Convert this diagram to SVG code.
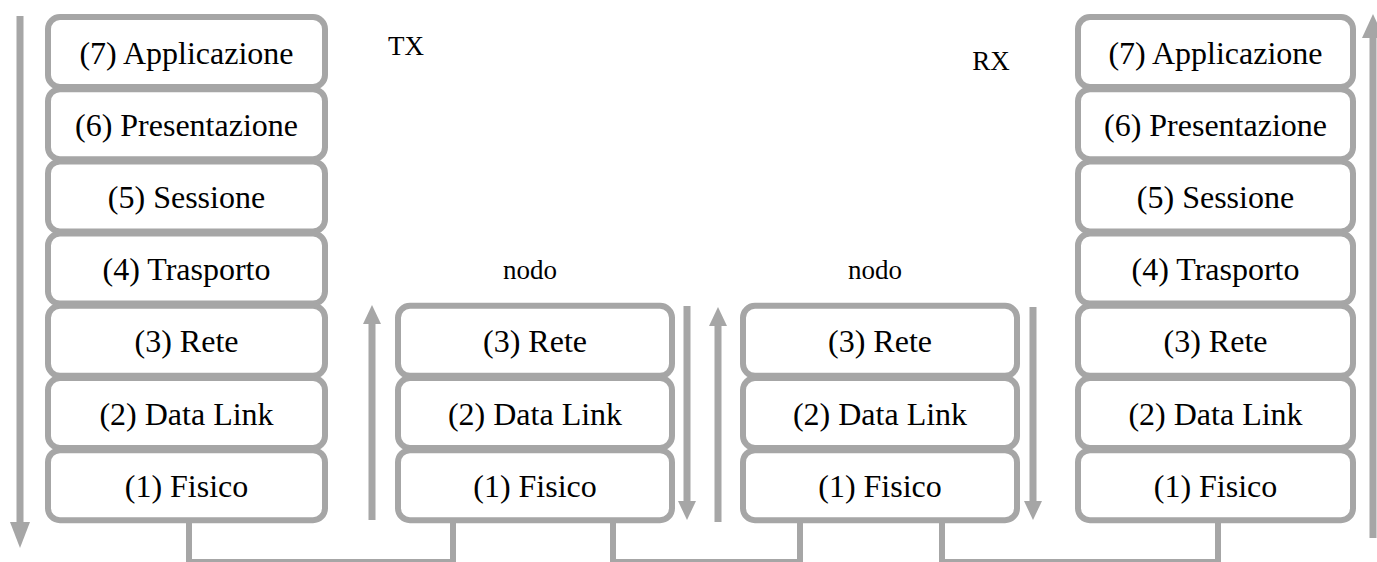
<svg xmlns="http://www.w3.org/2000/svg" width="1377" height="562" viewBox="0 0 1377 562">
<style>
.box{fill:#fff;stroke:#a6a6a6;stroke-width:6}
.lbl{font-family:"Liberation Serif","Times New Roman",serif;font-size:32px;fill:#000;text-anchor:middle}
.ann{font-family:"Liberation Serif","Times New Roman",serif;font-size:27px;fill:#000;text-anchor:middle}
.ln{stroke:#a6a6a6;stroke-width:6;fill:none}
.ar{stroke:#a6a6a6;stroke-width:7;fill:none}
.hd{fill:#a6a6a6}
</style>
<rect width="1377" height="562" fill="#fff"/>
<g id="connectors">
<path class="ln" d="M189 522 V562 H453 V522"/>
<path class="ln" d="M613 522 V562 H800 V522"/>
<path class="ln" d="M942 522 V562 H1218 V522"/>
<line class="ar" x1="20" y1="16" x2="20" y2="524"/><polygon class="hd" points="10,522 30,522 20,548"/>
<line class="ar" x1="1373" y1="538" x2="1373" y2="36"/><polygon class="hd" points="1362,38 1384,38 1373,14"/>
<line class="ar" x1="372" y1="520" x2="372" y2="322"/><polygon class="hd" points="363,324 381,324 372,305"/>
<line class="ar" x1="687" y1="306" x2="687" y2="503"/><polygon class="hd" points="678,501 696,501 687,520"/>
<line class="ar" x1="718" y1="522" x2="718" y2="324"/><polygon class="hd" points="709,326 727,326 718,307"/>
<line class="ar" x1="1033" y1="307" x2="1033" y2="503"/><polygon class="hd" points="1024,501 1042,501 1033,520"/>
</g>
<g id="tx-stack">
<rect class="box" x="48" y="17" width="277" height="70" rx="12"/>
<rect class="box" x="48" y="89.2" width="277" height="70" rx="12"/>
<rect class="box" x="48" y="161.4" width="277" height="70" rx="12"/>
<rect class="box" x="48" y="233.6" width="277" height="70" rx="12"/>
<rect class="box" x="48" y="305.8" width="277" height="70" rx="12"/>
<rect class="box" x="48" y="378" width="277" height="70" rx="12"/>
<rect class="box" x="48" y="450.2" width="277" height="70" rx="12"/>
<text class="lbl" x="186.5" y="63.5">(7) Applicazione</text>
<text class="lbl" x="186.5" y="135.7">(6) Presentazione</text>
<text class="lbl" x="186.5" y="207.9">(5) Sessione</text>
<text class="lbl" x="186.5" y="280.1">(4) Trasporto</text>
<text class="lbl" x="186.5" y="352.3">(3) Rete</text>
<text class="lbl" x="186.5" y="424.5">(2) Data Link</text>
<text class="lbl" x="186.5" y="496.7">(1) Fisico</text>
</g>
<g id="node1">
<rect class="box" x="398" y="305.8" width="274" height="70" rx="12"/>
<rect class="box" x="398" y="378" width="274" height="70" rx="12"/>
<rect class="box" x="398" y="450.2" width="274" height="70" rx="12"/>
<text class="lbl" x="535" y="352.3">(3) Rete</text>
<text class="lbl" x="535" y="424.5">(2) Data Link</text>
<text class="lbl" x="535" y="496.7">(1) Fisico</text>
</g>
<g id="node2">
<rect class="box" x="743" y="305.8" width="274" height="70" rx="12"/>
<rect class="box" x="743" y="378" width="274" height="70" rx="12"/>
<rect class="box" x="743" y="450.2" width="274" height="70" rx="12"/>
<text class="lbl" x="880" y="352.3">(3) Rete</text>
<text class="lbl" x="880" y="424.5">(2) Data Link</text>
<text class="lbl" x="880" y="496.7">(1) Fisico</text>
</g>
<g id="rx-stack">
<rect class="box" x="1078" y="17" width="275" height="70" rx="12"/>
<rect class="box" x="1078" y="89.2" width="275" height="70" rx="12"/>
<rect class="box" x="1078" y="161.4" width="275" height="70" rx="12"/>
<rect class="box" x="1078" y="233.6" width="275" height="70" rx="12"/>
<rect class="box" x="1078" y="305.8" width="275" height="70" rx="12"/>
<rect class="box" x="1078" y="378" width="275" height="70" rx="12"/>
<rect class="box" x="1078" y="450.2" width="275" height="70" rx="12"/>
<text class="lbl" x="1215.5" y="63.5">(7) Applicazione</text>
<text class="lbl" x="1215.5" y="135.7">(6) Presentazione</text>
<text class="lbl" x="1215.5" y="207.9">(5) Sessione</text>
<text class="lbl" x="1215.5" y="280.1">(4) Trasporto</text>
<text class="lbl" x="1215.5" y="352.3">(3) Rete</text>
<text class="lbl" x="1215.5" y="424.5">(2) Data Link</text>
<text class="lbl" x="1215.5" y="496.7">(1) Fisico</text>
</g>
<g id="labels">
<text class="ann" x="406" y="55">TX</text>
<text class="ann" x="991" y="70">RX</text>
<text class="ann" x="530" y="279">nodo</text>
<text class="ann" x="875" y="279">nodo</text>
</g>
</svg>
